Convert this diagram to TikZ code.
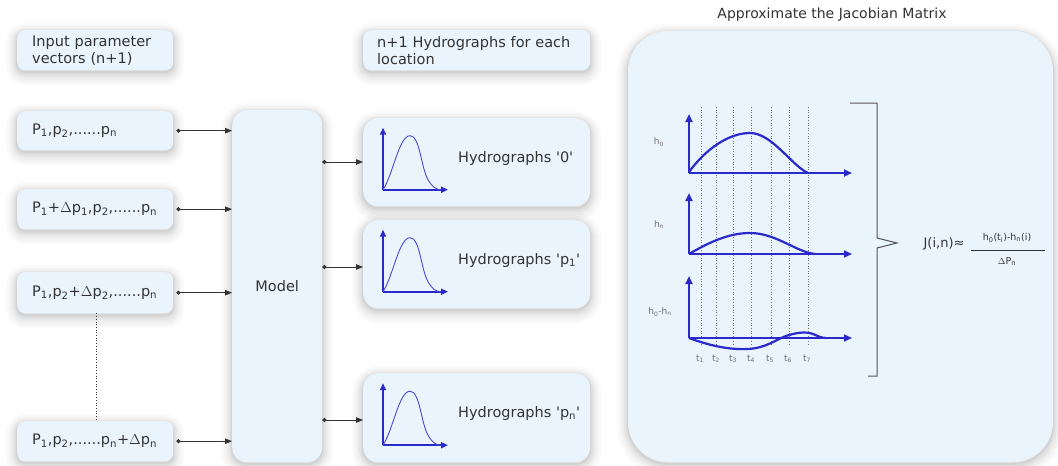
\documentclass[tikz,border=0pt]{standalone}
\usepackage{fontspec}
\setmainfont{DejaVu Sans}
\usetikzlibrary{arrows.meta}
\definecolor{boxfill}{HTML}{EAF4FC}
\definecolor{txt}{HTML}{333333}
\definecolor{gblue}{HTML}{2A2ACC}
\definecolor{brk}{HTML}{555555}
\newcommand\sbs[1]{\textsubscript{#1}}
\newcommand\fs[1]{\fontsize{#1}{17}\selectfont}
\tikzset{
  soft/.style={
    preaction={draw=black,opacity=.018,line width=22pt,transform canvas={yshift=-4pt}},
    preaction={draw=black,opacity=.022,line width=17pt,transform canvas={yshift=-4pt}},
    preaction={draw=black,opacity=.026,line width=12pt,transform canvas={yshift=-3.5pt}},
    preaction={draw=black,opacity=.03,line width=8pt,transform canvas={yshift=-3pt}},
    preaction={draw=black,opacity=.035,line width=4.5pt,transform canvas={yshift=-2.5pt}},
    preaction={draw=black,opacity=.04,line width=2pt,transform canvas={yshift=-2pt}}},
  pbox/.style={soft,fill=boxfill,rounded corners=8pt,text=txt,font=\fs{14.5},
    minimum height=#1,text width=126pt,inner xsep=15pt,inner ysep=0pt,align=left,anchor=north west},
  hbox/.style={soft,fill=boxfill,rounded corners=15pt,minimum width=227pt,minimum height=#1,anchor=north west,inner sep=0pt},
  conn/.style={draw=txt,line width=0.8pt,{Circle[length=4pt]}-{Triangle[length=7pt,width=5.5pt]}},
  axis/.style={draw=gblue,line width=2.2pt,-{Triangle[length=8pt,width=7pt]}},
  curve/.style={draw=gblue,line width=2.2pt},
  lbl/.style={text=txt!70,font=\fs{9}},
  tdot/.style={draw=black!55,dotted,line width=0.6pt},
  hydro/.pic={
    \draw[draw=gblue,line width=2pt,-{Triangle[length=7pt,width=6pt]}] (0,0) -- (0,-62);
    \draw[draw=gblue,line width=2pt,-{Triangle[length=7pt,width=6pt]}] (0,0) -- (65,0);
    \draw[draw=gblue!85,line width=0.9pt] (0,0) .. controls (10,-15) and (16,-54) .. (27,-54)
       .. controls (37,-54) and (38,-22) .. (45,-10) .. controls (49,-3) and (53,0) .. (58,0);
  }
}
\begin{document}
\begin{tikzpicture}[x=1pt,y=-1pt]
\useasboundingbox[fill=white] (0,0) rectangle (1058,466);

% left column
\node[pbox=40pt] (inhead) at (17,30) {Input parameter\\vectors (n+1)};
\node[pbox=39pt] (in1) at (17,111) {P\sbs{1},p\sbs{2},......p\sbs{n}};
\node[pbox=40pt] (in2) at (17,189) {P\sbs{1}+$\Delta$p\sbs{1},p\sbs{2},......p\sbs{n}};
\node[pbox=41pt] (in3) at (17,272) {P\sbs{1},p\sbs{2}+$\Delta$p\sbs{2},......p\sbs{n}};
\node[pbox=40pt] (in4) at (17,421) {P\sbs{1},p\sbs{2},......p\sbs{n}+$\Delta$p\sbs{n}};
\draw[draw=txt,dotted,line width=0.7pt] (in3.south -| 96,0) -- (in4.north -| 96,0);

% model
\node[soft,fill=boxfill,rounded corners=15pt,minimum width=90pt,minimum height=352pt,
  anchor=north west,text=txt,font=\fs{14.5}] (model) at (232,110) {Model};

% input connectors
\foreach \i in {1,2,3,4}{
  \draw[conn] ([xshift=3pt]in\i.east) -- (model.west |- in\i.east);
}

% hydrograph column
\node[soft,fill=boxfill,rounded corners=8pt,text=txt,font=\fs{14.5},minimum height=40pt,
  text width=199pt,inner xsep=14pt,inner ysep=0pt,align=left,anchor=north west] (hhead) at (363,30)
  {n+1 Hydrographs for each\\location};
\node[hbox=88pt] (h0) at (363,118) {};
\node[hbox=88pt] (hp1) at (363,220) {};
\node[hbox=89pt] (hpn) at (363,373) {};
\foreach \b/\t in {h0/{Hydrographs \textquotesingle0\textquotesingle},
                   hp1/{Hydrographs \textquotesingle p\sbs{1}\textquotesingle},
                   hpn/{Hydrographs \textquotesingle p\sbs{n}\textquotesingle}}{
  \pic at ([xshift=20pt,yshift=-27.5pt]\b.west) {hydro};
  \node[anchor=west,text=txt,font=\fs{14.5},inner sep=0pt] at ([xshift=95pt,yshift=4pt]\b.west) {\t};
}
\draw[conn] (model.east |- 0,162) -- (h0.west |- 0,162);
\draw[conn] (model.east |- 0,267) -- (hp1.west |- 0,267);
\draw[conn] (model.east |- 0,420) -- (hpn.west |- 0,420);

% Jacobian panel
\node[text=txt,font=\fs{14}] (jtitle) at (832,15) {Approximate the Jacobian Matrix};
\path[soft,fill=boxfill,rounded corners=40pt] (628,31) rectangle (1053,462);

% dotted time lines
\foreach \x in {701,716,733,751,771,789,808}{
  \draw[tdot] (\x,107) -- (\x,344);
}
% graph 1
\draw[axis] (689,173) -- (689,114);
\draw[axis] (689,173) -- (852,173);
\draw[curve] (689,172) .. controls (705,150) and (728,133) .. (750,133)
  .. controls (772,133) and (792,166) .. (808,173);
% graph 2
\draw[axis] (689,254) -- (689,193);
\draw[axis] (689,254) -- (852,254);
\draw[curve] (689,254) .. controls (708,243) and (728,233) .. (750,233)
  .. controls (776,233) and (796,252) .. (815,254);
% graph 3
\draw[axis] (689,338) -- (689,276);
\draw[axis] (689,338) -- (852,338);
\draw[curve] (689,338) .. controls (708,345) and (728,350) .. (748,349)
  .. controls (766,348) and (775,340) .. (786,336)
  .. controls (795,333) and (805,331) .. (813,334)
  .. controls (818,336) and (821,338) .. (826,338);

\node[lbl] (lh0) at (659,142) {h\sbs{0}};
\node[lbl] (lhn) at (659,225) {h\sbs{n}};
\node[lbl] (ldiff) at (660,312) {h\sbs{0}-h\sbs{n}};
\foreach \x/\k in {700/1,716/2,733/3,751/4,770/5,788/6,807/7}{
  \node[lbl] at (\x,359) {t\sbs{\k}};
}

% bracket
\draw[draw=brk,line width=1pt] (850,103) -- (877,103) -- (877,238) -- (897,243) -- (877,248) -- (877,376) -- (868,376);

% formula
\node[text=txt,font=\fs{13},anchor=east] (jin) at (968,244) {J(i,n)≈};
\node[text=txt,font=\fs{9.5}] (num) at (1007,238) {h\sbs{0}(t\sbs{i})-h\sbs{n}(i)};
\draw[draw=txt,line width=0.8pt] (971,250) -- (1045,250);
\node[text=txt,font=\fs{9.5}] (den) at (1007,262) {$\Delta$P\sbs{n}};
\end{tikzpicture}
\end{document}
